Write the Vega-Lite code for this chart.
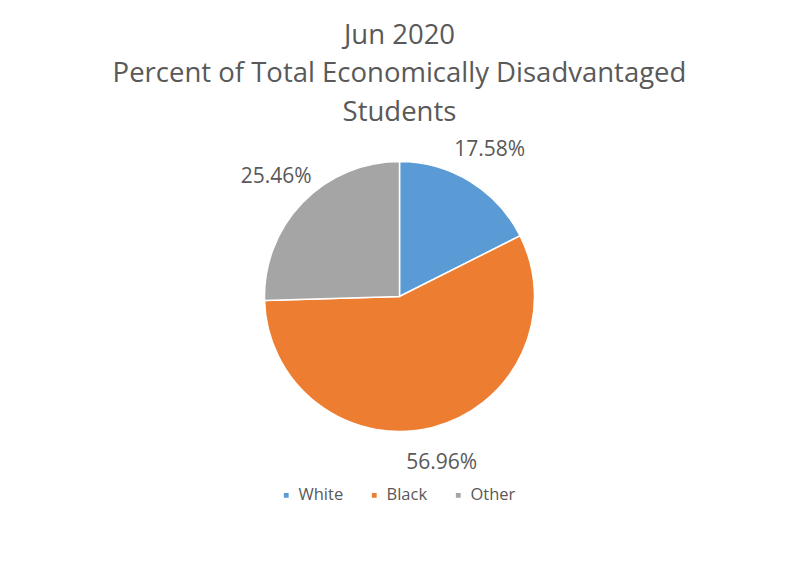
{
  "$schema": "https://vega.github.io/schema/vega-lite/v6.json",
  "width": 799,
  "height": 565,
  "autosize": {"type": "fit", "contains": "padding"},
  "padding": {"top": 21, "bottom": 108, "left": 5, "right": 5},
  "background": "white",
  "title": {
    "text": ["Jun 2020", "Percent of Total Economically Disadvantaged", "Students"],
    "anchor": "middle",
    "font": "Open Sans",
    "fontSize": 27.5,
    "fontWeight": "normal",
    "color": "#595959",
    "lineHeight": 38.5,
    "offset": 10
  },
  "data": {
    "values": [
      {"group": "White", "pct": 17.58, "label": "17.58%", "ord": 1},
      {"group": "Black", "pct": 56.96, "label": "56.96%", "ord": 2},
      {"group": "Other", "pct": 25.46, "label": "25.46%", "ord": 3}
    ]
  },
  "config": {"view": {"stroke": null}},
  "encoding": {
    "theta": {"field": "pct", "type": "quantitative", "stack": true},
    "order": {"field": "ord", "type": "quantitative"},
    "color": {
      "field": "group",
      "type": "nominal",
      "scale": {"domain": ["White", "Black", "Other"], "range": ["#5B9BD5", "#ED7D31", "#A5A5A5"]},
      "legend": {
        "title": null,
        "orient": "none",
        "legendX": 273,
        "legendY": 351,
        "direction": "horizontal",
        "symbolType": "square",
        "symbolSize": 40,
        "labelFont": "Open Sans",
        "labelFontSize": 16.5,
        "labelColor": "#595959",
        "columnPadding": 22
      }
    }
  },
  "layer": [
    {"mark": {"type": "arc", "outerRadius": 135, "stroke": "white", "strokeWidth": 1.5}},
    {
      "mark": {"type": "text", "radius": 172, "font": "Open Sans", "fontSize": 21, "color": "#595959"},
      "encoding": {"text": {"field": "label"}, "color": {"value": "#595959"}}
    }
  ]
}
